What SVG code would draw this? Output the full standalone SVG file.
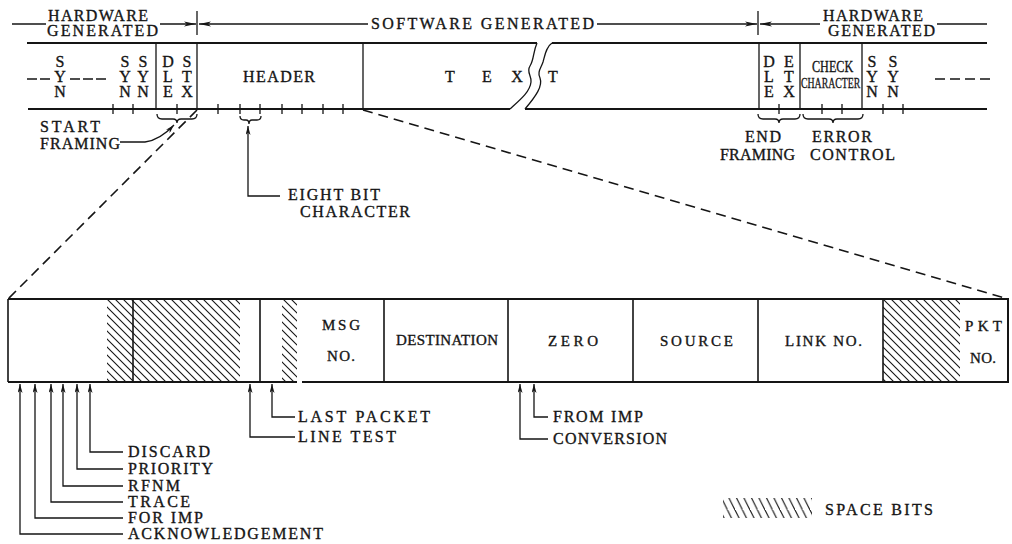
<svg xmlns="http://www.w3.org/2000/svg" width="1012" height="544" viewBox="0 0 1012 544">
<style>
.t{font-family:"Liberation Serif","DejaVu Serif",serif;font-size:16px;fill:#151515;stroke:#151515;stroke-width:0.35}
.b{font-size:16px}
.c{font-size:15px}
.ln{stroke:#151515;stroke-width:1.3;fill:none}
.hv{stroke:#151515;stroke-width:2;fill:none}
.dash{stroke:#151515;stroke-width:1.6;fill:none;stroke-dasharray:10 6}
.tk{stroke:#151515;stroke-width:1.3}
</style>
<defs>
<marker id="ah" viewBox="0 0 12 6" refX="12" refY="3" markerWidth="12" markerHeight="6" markerUnits="userSpaceOnUse" orient="auto"><path d="M0,0.5 L12,3 L0,5.5 L3,3 z" fill="#151515"/></marker>
<marker id="au" viewBox="0 0 9 5" refX="9" refY="2.5" markerWidth="9" markerHeight="5" markerUnits="userSpaceOnUse" orient="auto"><path d="M0,0 L9,2.5 L0,5 L2.5,2.5 z" fill="#151515"/></marker>
<pattern id="hatch" width="8" height="8" patternUnits="userSpaceOnUse"><path d="M-2,-2 L10,10 M-2,6 L2,10 M6,-2 L10,2" stroke="#151515" stroke-width="1.1"/></pattern>
<pattern id="hatch2" width="7.5" height="15" patternUnits="userSpaceOnUse"><path d="M0,0 L7.5,15 M-3.75,-7.5 L3.75,7.5 M3.75,7.5 L7.5,15 M3.75,-7.5 L11.25,7.5" stroke="#151515" stroke-width="1.1"/></pattern>
</defs>
<rect width="1012" height="544" fill="#fff"/>

<g id="scope-labels">
<text class="t b" x="48" y="21" textLength="100" lengthAdjust="spacing">HARDWARE</text>
<text class="t b" x="47" y="36" textLength="111" lengthAdjust="spacing">GENERATED</text>
<text class="t b" x="371" y="29" textLength="223" lengthAdjust="spacing">SOFTWARE GENERATED</text>
<text class="t b" x="823" y="21" textLength="100" lengthAdjust="spacing">HARDWARE</text>
<text class="t b" x="828" y="36" textLength="107" lengthAdjust="spacing">GENERATED</text>
</g>

<g id="top-frame">
<path class="hv" d="M27,43 L537,43 M552,43 L987,43 M28,109 L510,109 M525,109 L987,109"/>
<path class="ln" d="M537,43 C533,52 534,60 530,66 C526,72 532,76 531,82 C530,92 520,100 510,109"/>
<path class="ln" d="M552,43 C546,47 545,55 543,62 C541,68 537,72 540,78 C543,86 536,96 525,109"/>
<path class="ln" d="M156,43 V109 M197,43 V109 M363,43 V109 M759,43 V109 M800,43 V109 M862,43 V109"/>
<path class="tk" d="M113,104 V114 M133,104 V114 M177,104 V114 M218,104 V114 M240,104 V114 M260,104 V114 M282,104 V114 M302,104 V114 M323,104 V114 M343,104 V114 M779,104 V114 M822,104 V114 M842,104 V114 M883,104 V114 M903,104 V114"/>
</g>

<g id="syn-left">
<text class="t b" text-anchor="middle"><tspan x="60" y="67">S</tspan><tspan x="60" y="82">Y</tspan><tspan x="60" y="97">N</tspan></text>
<path class="ln" d="M27,79 H50 M70,79 H107" stroke-dasharray="10 3"/>
<text class="t b" text-anchor="middle"><tspan x="125" y="67">S</tspan><tspan x="125" y="82">Y</tspan><tspan x="125" y="97">N</tspan></text>
<text class="t b" text-anchor="middle"><tspan x="143" y="67">S</tspan><tspan x="143" y="82">Y</tspan><tspan x="143" y="97">N</tspan></text>
</g>
<g id="dle-stx">
<text class="t b" text-anchor="middle"><tspan x="168" y="67">D</tspan><tspan x="168" y="82">L</tspan><tspan x="168" y="97">E</tspan></text>
<text class="t b" text-anchor="middle"><tspan x="187" y="67">S</tspan><tspan x="187" y="82">T</tspan><tspan x="187" y="97">X</tspan></text>
</g>
<g id="header">
<text class="t b" x="243" y="82" textLength="72" lengthAdjust="spacing">HEADER</text>
</g>
<g id="text-field">
<text class="t b" text-anchor="middle" x="450 468 487 502 517" y="82">T E X</text>
<text class="t b" text-anchor="middle" x="553" y="82">T</text>
</g>
<g id="dle-etx">
<text class="t b" text-anchor="middle"><tspan x="769" y="67">D</tspan><tspan x="769" y="82">L</tspan><tspan x="769" y="97">E</tspan></text>
<text class="t b" text-anchor="middle"><tspan x="789" y="67">E</tspan><tspan x="789" y="82">T</tspan><tspan x="789" y="97">X</tspan></text>
</g>
<g id="check-character">
<text class="t" style="font-size:16px" transform="translate(812,72) scale(0.76,1)">CHECK</text>
<text class="t" style="font-size:15px" transform="translate(801,88) scale(0.655,1)">CHARACTER</text>
</g>
<g id="syn-right">
<text class="t b" text-anchor="middle"><tspan x="872" y="67">S</tspan><tspan x="872" y="82">Y</tspan><tspan x="872" y="97">N</tspan></text>
<text class="t b" text-anchor="middle"><tspan x="893" y="67">S</tspan><tspan x="893" y="82">Y</tspan><tspan x="893" y="97">N</tspan></text>
<path class="ln" d="M935,79 H992" stroke-dasharray="10 5"/>
</g>

<g id="braces">
<path class="ln" d="M157,114 Q157,119 162,119 L173,119 Q177,119 177,123 Q177,119 181,119 L192,119 Q197,119 197,114"/>
<path class="ln" d="M240,116 Q240,120 244,120 L246,120 Q249,120 249,124 Q249,120 252,120 L257,120 Q261,120 261,116"/>
<path class="ln" d="M758,114 Q758,119 763,119 L775,119 Q779,119 779,123 Q779,119 783,119 L795,119 Q800,119 800,114"/>
<path class="ln" d="M803,114 Q803,119 808,119 L829,119 Q833,119 833,123 Q833,119 837,119 L858,119 Q863,119 863,114"/>
</g>

<g id="top-labels">
<text class="t" x="40" y="132" textLength="60" lengthAdjust="spacing">START</text>
<text class="t" x="40" y="149" textLength="80" lengthAdjust="spacing">FRAMING</text>
<text class="t" x="288" y="200" textLength="92" lengthAdjust="spacing">EIGHT BIT</text>
<text class="t" x="300" y="217" textLength="110" lengthAdjust="spacing">CHARACTER</text>
<text class="t" x="745" y="142" textLength="36" lengthAdjust="spacing">END</text>
<text class="t" x="720" y="160" textLength="75" lengthAdjust="spacing">FRAMING</text>
<text class="t" x="812" y="142" textLength="60" lengthAdjust="spacing">ERROR</text>
<text class="t" x="810" y="160" textLength="85" lengthAdjust="spacing">CONTROL</text>
</g>

<g id="packet-header">
<rect x="107" y="299" width="26" height="83" fill="url(#hatch)"/>
<rect x="133" y="299" width="107" height="83" fill="url(#hatch)"/>
<rect x="282" y="299" width="15" height="83" fill="url(#hatch)"/>
<rect x="883" y="299" width="77" height="83" fill="url(#hatch)"/>
<path class="hv" d="M8,299 H1008 V382 H302 M297,382 H8 Z"/>
<path class="ln" d="M8,299 V382 M133,299 V382 M260,299 V382 M384,299 V382 M508,299 V382 M633,299 V382 M758,299 V382 M883,299 V382" style="stroke-width:1.6"/>
</g>
<g id="msg-no"><text class="t c" x="322" y="330" textLength="38" lengthAdjust="spacing">MSG</text><text class="t c" x="327" y="361" textLength="28" lengthAdjust="spacing">NO.</text></g>
<g id="destination"><text class="t c" x="396" y="345" textLength="102" lengthAdjust="spacing">DESTINATION</text></g>
<g id="zero"><text class="t c" x="548" y="346" textLength="50" lengthAdjust="spacing">ZERO</text></g>
<g id="source"><text class="t c" x="660" y="346" textLength="73" lengthAdjust="spacing">SOURCE</text></g>
<g id="link-no"><text class="t c" x="785" y="346" textLength="77" lengthAdjust="spacing">LINK NO.</text></g>
<g id="pkt-no"><text class="t c" x="965" y="331" textLength="37" lengthAdjust="spacing">PKT</text><text class="t c" x="970" y="363" textLength="26" lengthAdjust="spacing">NO.</text></g>

<g id="bit-labels">
<text class="t" x="128" y="457" textLength="82" lengthAdjust="spacing">DISCARD</text>
<text class="t" x="128" y="474" textLength="85" lengthAdjust="spacing">PRIORITY</text>
<text class="t" x="128" y="491" textLength="52" lengthAdjust="spacing">RFNM</text>
<text class="t" x="128" y="507" textLength="62" lengthAdjust="spacing">TRACE</text>
<text class="t" x="128" y="523" textLength="75" lengthAdjust="spacing">FOR IMP</text>
<text class="t" x="128" y="539" textLength="195" lengthAdjust="spacing">ACKNOWLEDGEMENT</text>
<text class="t" x="298" y="422" textLength="132" lengthAdjust="spacing">LAST PACKET</text>
<text class="t" x="298" y="442" textLength="98" lengthAdjust="spacing">LINE TEST</text>
<text class="t" x="553" y="422" textLength="90" lengthAdjust="spacing">FROM IMP</text>
<text class="t" x="553" y="444" textLength="114" lengthAdjust="spacing">CONVERSION</text>
</g>

<g id="legend">
<rect x="723" y="498" width="89" height="20" fill="url(#hatch2)"/>
<text class="t" x="825" y="515" textLength="108" lengthAdjust="spacing">SPACE BITS</text>
</g>

<g id="connectors">
<path class="ln" d="M12,24 H46"/>
<path class="ln" d="M160,24 H196" marker-end="url(#ah)"/>
<path class="ln" d="M368,24 H199" marker-end="url(#ah)"/>
<path class="ln" d="M197,11 V35"/>
<path class="ln" d="M597,24 H757" marker-end="url(#ah)"/>
<path class="ln" d="M820,24 H760" marker-end="url(#ah)"/>
<path class="ln" d="M758,11 V35"/>
<path class="ln" d="M937,24 H987"/>
<path class="ln" d="M120,142 L145,142 Q160,140 174,125" marker-end="url(#au)"/>
<path class="ln" d="M280,196 H248 V126" marker-end="url(#au)"/>
<path class="dash" d="M197,110 L8,299"/>
<path class="dash" d="M363,110 L1008,299"/>
<path class="ln" d="M123,452 H90 V384" marker-end="url(#au)"/>
<path class="ln" d="M123,469 H77 V384" marker-end="url(#au)"/>
<path class="ln" d="M123,486 H63 V384" marker-end="url(#au)"/>
<path class="ln" d="M123,502 H51 V384" marker-end="url(#au)"/>
<path class="ln" d="M123,518 H35 V384" marker-end="url(#au)"/>
<path class="ln" d="M123,534 H20 V384" marker-end="url(#au)"/>
<path class="ln" d="M295,417 H272 V384" marker-end="url(#au)"/>
<path class="ln" d="M295,437 H250 V384" marker-end="url(#au)"/>
<path class="ln" d="M548,417 H534 V384" marker-end="url(#au)"/>
<path class="ln" d="M548,439 H520 V384" marker-end="url(#au)"/>
</g>
</svg>
